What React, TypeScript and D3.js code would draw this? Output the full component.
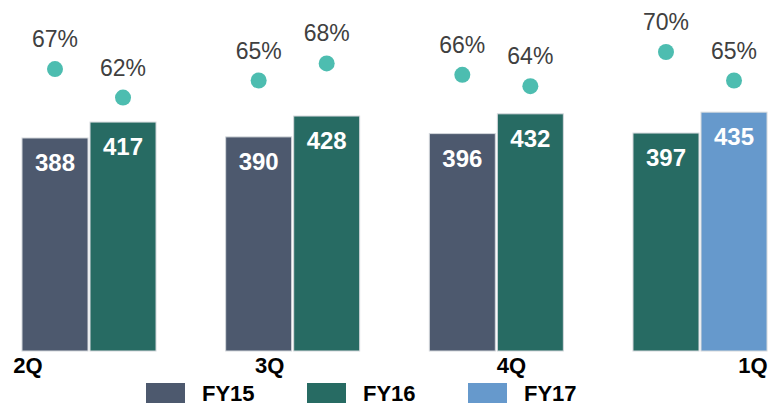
import { useEffect, useRef } from 'react';
import * as d3 from 'd3';

const quarters = ['2Q', '3Q', '4Q', '1Q'];
// left bar / right bar of each quarter
const leftSeries = ['FY15', 'FY15', 'FY15', 'FY16'];
const rightSeries = ['FY16', 'FY16', 'FY16', 'FY17'];
const leftValues = [388, 390, 396, 397];
const rightValues = [417, 428, 432, 435];
const leftPct = [67, 65, 66, 70];
const rightPct = [62, 68, 64, 65];
const legendItems = ['FY15', 'FY16', 'FY17'];

const seriesColor: Record<string, string> = {
  FY15: '#4d596e',
  FY16: '#276b63',
  FY17: '#6699cc',
};

const W = 769;
const H = 406;
const FONT = '"Liberation Sans", Arial, sans-serif';

export default function App() {
  const svgRef = useRef<SVGSVGElement>(null);

  useEffect(() => {
    if (!svgRef.current) return;
    const svg = d3.select(svgRef.current);
    svg.selectAll('*').remove();

    const x = d3.scaleBand<string>()
      .domain(quarters)
      .range([22, 767])
      .paddingInner(0.342)
      .paddingOuter(0);

    const xInner = d3.scaleBand<number>()
      .domain([0, 1])
      .range([0, x.bandwidth()])
      .paddingInner(0.03);

    const y = d3.scaleLinear().domain([0, 500]).range([351, 76.5]);
    const yPct = d3.scaleLinear().domain([60, 72]).range([109, 40.6]);

    const labelX = d3.scalePoint<string>().domain(quarters).range([28, 753]);

    const bars = quarters.flatMap((q, i) => [
      { q, slot: 0, series: leftSeries[i], value: leftValues[i], pct: leftPct[i] },
      { q, slot: 1, series: rightSeries[i], value: rightValues[i], pct: rightPct[i] },
    ]);

    const g = svg.append('g');

    // bars
    g.selectAll('rect.bar')
      .data(bars)
      .join('rect')
      .attr('class', 'bar')
      .attr('x', (d) => x(d.q)! + xInner(d.slot)!)
      .attr('y', (d) => y(d.value))
      .attr('width', xInner.bandwidth())
      .attr('height', (d) => y(0) - y(d.value))
      .attr('fill', (d) => seriesColor[d.series])
      .attr('stroke', '#d4d8dc')
      .attr('stroke-width', 1);

    // value labels
    g.selectAll('text.val')
      .data(bars)
      .join('text')
      .attr('class', 'val')
      .attr('x', (d) => x(d.q)! + xInner(d.slot)! + xInner.bandwidth() / 2)
      .attr('y', (d) => y(d.value) + 33)
      .attr('text-anchor', 'middle')
      .style('font-family', FONT)
      .style('font-weight', 'bold')
      .style('font-size', '24px')
      .style('fill', '#ffffff')
      .text((d) => d.value);

    // dots
    g.selectAll('circle.dot')
      .data(bars)
      .join('circle')
      .attr('class', 'dot')
      .attr('cx', (d) => x(d.q)! + xInner(d.slot)! + xInner.bandwidth() / 2)
      .attr('cy', (d) => yPct(d.pct))
      .attr('r', 8)
      .attr('fill', '#4dbdb0');

    // percent labels
    g.selectAll('text.pct')
      .data(bars)
      .join('text')
      .attr('class', 'pct')
      .attr('x', (d) => x(d.q)! + xInner(d.slot)! + xInner.bandwidth() / 2)
      .attr('y', (d) => yPct(d.pct) - 22)
      .attr('text-anchor', 'middle')
      .style('font-family', FONT)
      .style('font-size', '23px')
      .style('fill', '#404040')
      .text((d) => `${d.pct}%`);

    // quarter labels
    g.selectAll('text.q')
      .data(quarters)
      .join('text')
      .attr('class', 'q')
      .attr('x', (d) => labelX(d)!)
      .attr('y', 373)
      .attr('text-anchor', 'middle')
      .style('font-family', FONT)
      .style('font-weight', 'bold')
      .style('font-size', '22px')
      .style('fill', '#000000')
      .text((d) => d);

    // legend
    const legendX = d3.scalePoint<string>().domain(legendItems).range([146, 468]);
    const lg = g.selectAll('g.legend')
      .data(legendItems)
      .join('g')
      .attr('class', 'legend')
      .attr('transform', (d) => `translate(${legendX(d)},383)`);
    lg.append('rect')
      .attr('width', 39)
      .attr('height', 20)
      .attr('fill', (d) => seriesColor[d]);
    lg.append('text')
      .attr('x', 56)
      .attr('y', 18)
      .style('font-family', FONT)
      .style('font-weight', 'bold')
      .style('font-size', '22px')
      .style('fill', '#000000')
      .text((d) => d);
  }, []);

  return (
    <svg
      ref={svgRef}
      width={W}
      height={H}
      style={{ position: 'absolute', left: 0, top: 0, background: '#ffffff' }}
    />
  );
}
